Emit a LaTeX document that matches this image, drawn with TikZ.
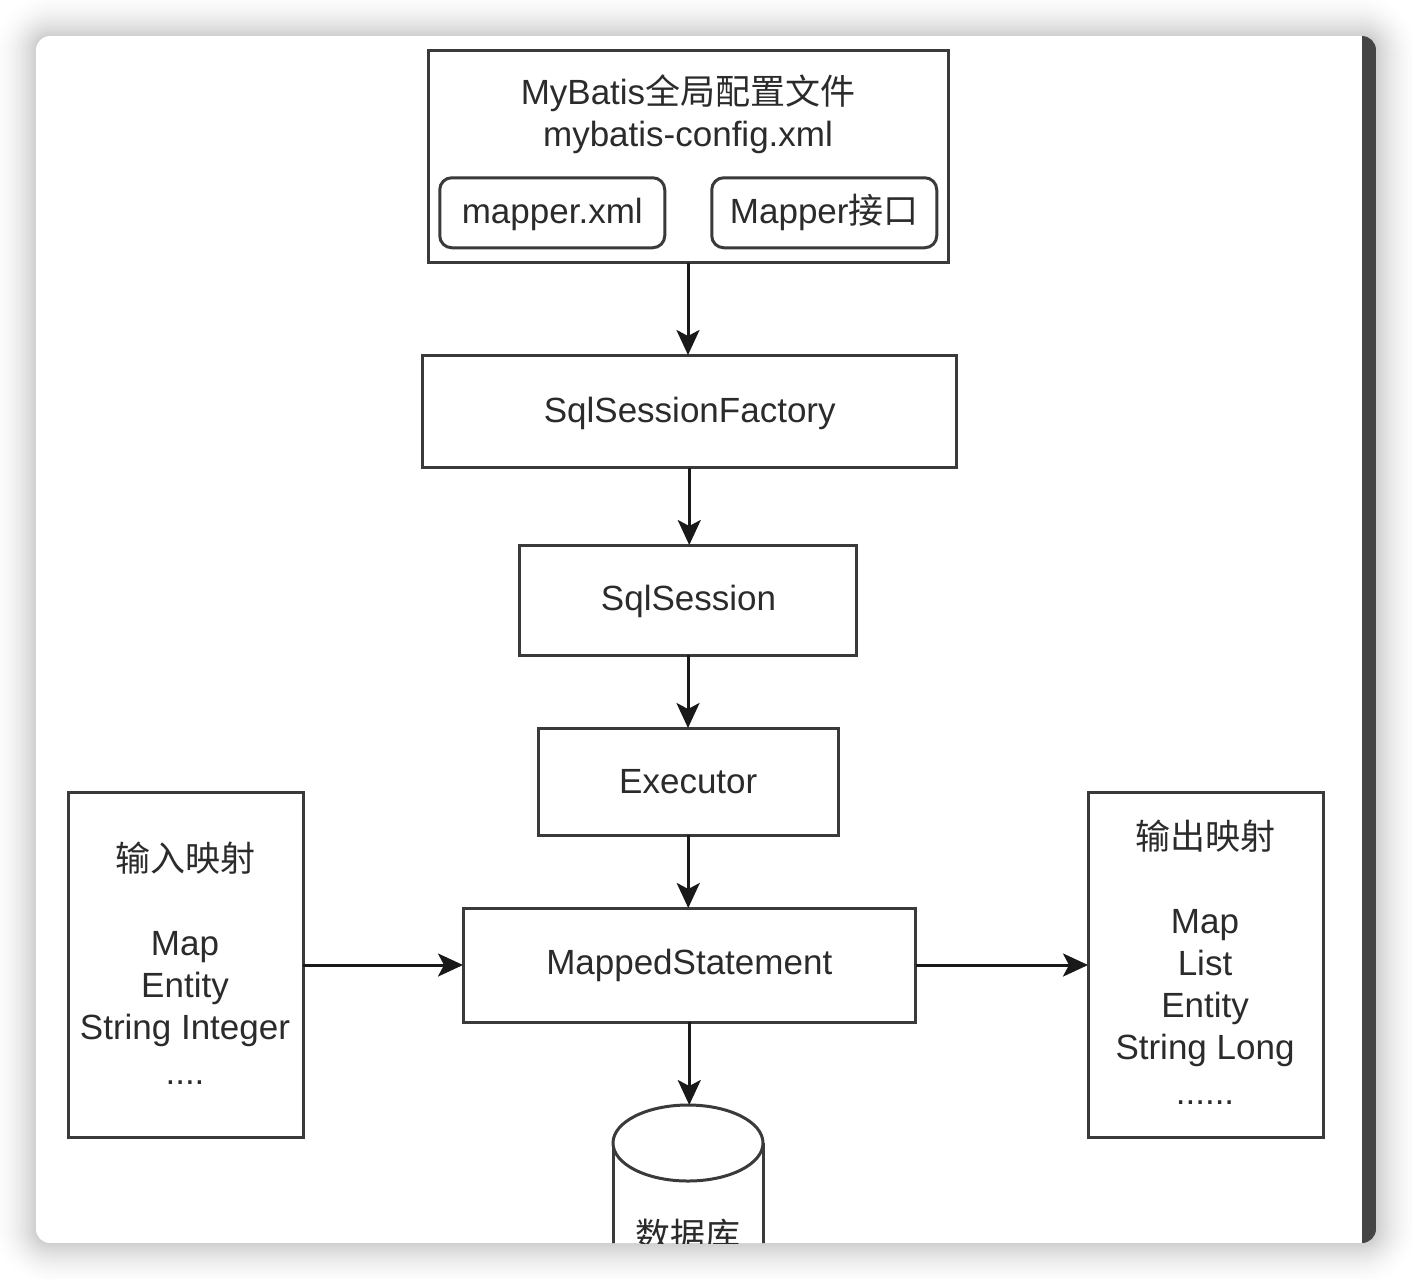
\documentclass[tikz,border=0pt]{standalone}
\usepackage{fontspec}
\setmainfont{Liberation Sans}
\newfontfamily\cjk{Noto Sans CJK SC}
\usetikzlibrary{arrows.meta}
\definecolor{ink}{HTML}{2B2B2B}
\definecolor{edge}{HTML}{3A3A3A}
\definecolor{strip}{HTML}{444444}
\tikzset{
  box/.style={draw=edge,line width=3pt,fill=white,inner sep=0pt,outer sep=0pt,text=ink,align=center,
    font=\fontsize{35}{42}\selectfont},
  roundbox/.style={box,rounded corners=12pt},
  plainlabel/.style={inner sep=0pt,outer sep=0pt,text=ink,align=center,font=\fontsize{35}{42}\selectfont},
  flow/.style={draw=black!90,line width=3pt,-{Stealth[length=25pt,width=23pt,inset=6pt]}},
}
\begin{document}
\begin{tikzpicture}[x=1pt,y=-1pt]
\useasboundingbox (0,0) rectangle (1412,1278);
% window shadow
\begin{scope}
\clip (0,0) rectangle (1412,1278);
\foreach \d in {48,47,...,0}{
  \pgfmathsetmacro\p{19*(1-\d/48)*(1-\d/48)}
  \fill[black!\p,rounded corners={14pt+1.2*\d pt}] (36-\d,36-\d) rectangle (1376+\d,1243+\d);
}
\end{scope}
\begin{scope}
\clip[rounded corners=14pt] (36,36) rectangle (1376,1243);
\fill[white] (36,36) rectangle (1376,1243);
\fill[strip] (1362,36) rectangle (1376,1243);
% database
\coordinate (dbtop) at (688,1105);
\draw[edge,line width=3pt,fill=white] (613,1143) -- (613,1300) -- (763,1300) -- (763,1143);
\draw[edge,line width=3pt,fill=white] (688,1143) ellipse [x radius=75,y radius=38];
\node[plainlabel] (dblabel) at (688,1235) {\cjk 数据库};
\end{scope}
% boxes
\node[box,minimum width=520pt,minimum height=212.5pt] (config) at (688,156.25) {};
\node[plainlabel] (configlabel) at (688,114.5) {MyBatis{\cjk 全局配置文件}\\mybatis-config.xml};
\node[roundbox,minimum width=225pt,minimum height=70pt] (mapperxml) at (552.25,212.75) {};
\node[plainlabel] (mapperxmllabel) at (552.25,214) {mapper.xml};
\node[roundbox,minimum width=225pt,minimum height=70pt] (mapperif) at (824.25,212.75) {Mapper{\cjk 接口}};
\node[box,minimum width=534.5pt,minimum height=112.5pt] (factory) at (689.25,411.25) {};
\node[plainlabel] (factorylabel) at (689.75,413.5) {SqlSessionFactory};
\node[box,minimum width=337.5pt,minimum height=110pt] (session) at (688,600) {};
\node[plainlabel] (sessionlabel) at (688.5,601.5) {SqlSession};
\node[box,minimum width=300.5pt,minimum height=107pt] (executor) at (688.25,781.5) {Executor};
\node[box,minimum width=452.5pt,minimum height=114pt] (mapped) at (689.25,965) {MappedStatement};
\node[box,minimum width=235pt,minimum height=345pt] (input) at (185.5,965.25) {};
\node[plainlabel] (inputlabel) at (185,963.5) {{\cjk 输入映射}\\[0pt]\mbox{}\\Map\\Entity\\String Integer\\[3pt]....};
\node[box,minimum width=235.5pt,minimum height=345pt] (output) at (1205.75,965.25) {};
\node[plainlabel] (outputlabel) at (1205,962) {{\cjk 输出映射}\\[0pt]\mbox{}\\Map\\List\\Entity\\String Long\\[3pt]......};
% connectors
\draw[flow] (config.south) -- (factory.north -| config.south);
\draw[flow] (factory.south) -- (session.north -| factory.south);
\draw[flow] (session.south) -- (executor.north -| session.south);
\draw[flow] (executor.south) -- (mapped.north -| executor.south);
\draw[flow] (mapped.south) -- (dbtop -| mapped.south);
\draw[flow] (input.east |- mapped.west) -- (mapped.west);
\draw[flow] (mapped.east) -- (output.west |- mapped.east);
\end{tikzpicture}
\end{document}
